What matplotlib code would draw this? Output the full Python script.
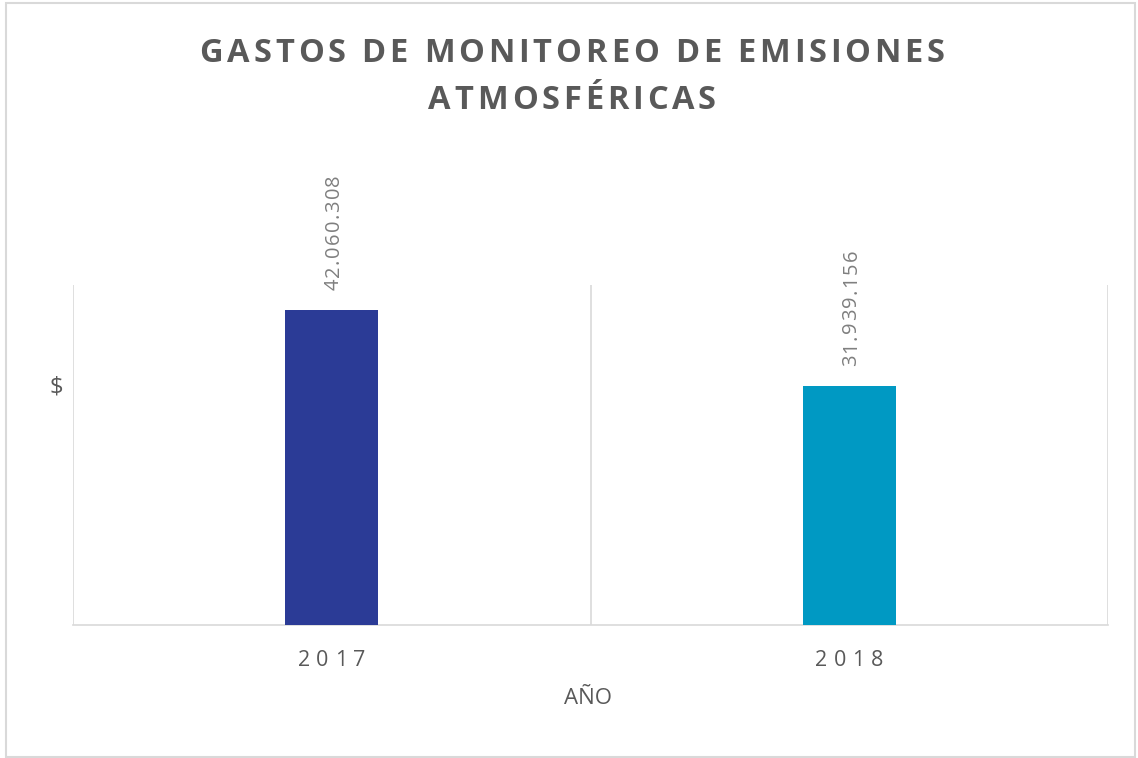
import matplotlib
matplotlib.use("Agg")
import matplotlib.pyplot as plt
from matplotlib.patches import Rectangle
from matplotlib.font_manager import FontProperties

years = ["2017", "2018"]
values = [42060308, 31939156]
labels = ["42.060.308", "31.939.156"]
colors = ["#2B3B96", "#0099C3"]
title_lines = ["GASTOS DE MONITOREO DE EMISIONES", "ATMOSFÉRICAS"]
x_label = "AÑO"
y_label = "$"

W, H = 1138, 758
DPI = 100
fig = plt.figure(figsize=(W / DPI, H / DPI), dpi=DPI)
ax = fig.add_axes([73 / W, 1 - 625 / H, (1108 - 73) / W, (625 - 285) / H])

x = list(range(len(years)))
ax.bar(x, values, width=0.18, color=colors, zorder=3)
ax.set_xlim(-0.5, len(years) - 0.5)
ax.set_ylim(0, 45.4e6)

grid_c = "#D9D9D9"
for b in [i - 0.5 for i in range(len(years) + 1)]:
    ax.axvline(b, color=grid_c, lw=1.2, zorder=1)
for s in ["top", "right", "left"]:
    ax.spines[s].set_visible(False)
ax.spines["bottom"].set_color(grid_c)
ax.spines["bottom"].set_linewidth(1.2)
ax.set_yticks([])
ax.set_xticks([])

renderer = fig.canvas.get_renderer()
FAM = ["Open Sans", "DejaVu Sans"]


def advances(s, size, weight):
    fp = FontProperties(family="Open Sans", size=size, weight=weight)
    base = renderer.get_text_width_height_descent("||", fp, ismath=False)[0]
    return [renderer.get_text_width_height_descent("|" + c + "|", fp, ismath=False)[0] - base for c in s]


def spaced_h(s, cx, y_base, size, weight, color, target_w=None, sp=0.0):
    w = advances(s, size, weight)
    if target_w is not None and len(s) > 1:
        sp = (target_w - sum(w)) / (len(s) - 1)
    total = sum(w) + sp * (len(s) - 1)
    px = cx - total / 2
    for c, wc in zip(s, w):
        fig.text(px / W, 1 - y_base / H, c, fontsize=size, fontweight=weight, color=color,
                 ha="left", va="baseline", family=FAM)
        px += wc + sp
    return sp


def spaced_v(s, cx, y_bottom, size, color, target_h=None, sp=0.0):
    w = advances(s, size, "normal")
    if target_h is not None and len(s) > 1:
        sp = (target_h - sum(w)) / (len(s) - 1)
    cap = 0.714 * size * DPI / 72
    xb = cx + cap / 2
    py = y_bottom
    for c, wc in zip(s, w):
        fig.text(xb / W, 1 - py / H, c, fontsize=size, color=color, rotation=90,
                 rotation_mode="anchor", ha="left", va="baseline", family=FAM)
        py -= wc + sp


# title
sp_title = spaced_h(title_lines[0], 572, 62, 23.5, "bold", "#595959", target_w=745)
spaced_h(title_lines[1], 572, 109, 23.5, "bold", "#595959", sp=sp_title)

# category labels
for xi, yr in zip(x, years):
    cx = ax.transData.transform((xi, 0))[0]
    spaced_h(yr, cx, 666, 15.5, "normal", "#595959", target_w=68)

# data labels
for xi, v, lab in zip(x, values, labels):
    cx, cy = ax.transData.transform((xi, v))
    top_px = H - cy
    spaced_v(lab, cx, top_px - 20, 14.5, "#7F7F7F", target_h=116)

# axis titles
fig.text(588 / W, 1 - 699 / H, x_label, fontsize=16, color="#595959", ha="center", va="center", family=FAM)
fig.text(56 / W, 1 - 387 / H, y_label, fontsize=17, color="#595959", ha="center", va="center", family=FAM)

fig.patches.append(Rectangle((6 / W, 1 - 757 / H), (1135 - 6) / W, (757 - 3) / H,
                             transform=fig.transFigure, fill=False, edgecolor="#D9D9D9", lw=1.5))

fig.savefig("out.png", dpi=DPI, facecolor="white")
